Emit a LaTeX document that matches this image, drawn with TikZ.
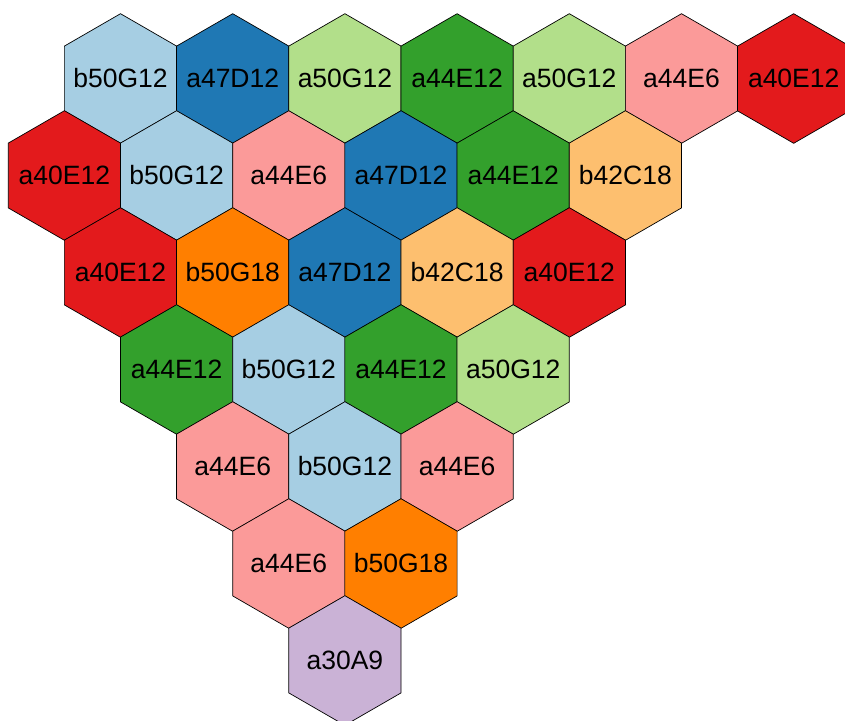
\documentclass[tikz,border=0pt]{standalone}
\usepackage{fontspec}
\setmainfont{Liberation Sans}

% one colour per label
\definecolor{b50G12}{HTML}{A6CEE3}
\definecolor{a47D12}{HTML}{1F78B4}
\definecolor{a50G12}{HTML}{B2DF8A}
\definecolor{a44E12}{HTML}{33A02C}
\definecolor{a44E6}{HTML}{FB9A99}
\definecolor{a40E12}{HTML}{E31A1C}
\definecolor{b42C18}{HTML}{FDBF6F}
\definecolor{b50G18}{HTML}{FF7F00}
\definecolor{a30A9}{HTML}{CAB2D6}

\begin{document}
\begin{tikzpicture}[x=1pt,y=-1pt,
  hexcell/.style={draw=black, line width=0.7pt},
  hexlabel/.style={inner sep=0pt, font=\fontsize{26.5}{31}\selectfont}]
  \clip (0,0) rectangle (845,720);
  \foreach \row/\shift/\labels in {
      0/0/{b50G12,a47D12,a50G12,a44E12,a50G12,a44E6,a40E12},
      1/-0.5/{a40E12,b50G12,a44E6,a47D12,a44E12,b42C18},
      2/0/{a40E12,b50G18,a47D12,b42C18,a40E12},
      3/0.5/{a44E12,b50G12,a44E12,a50G12},
      4/1/{a44E6,b50G12,a44E6},
      5/1.5/{a44E6,b50G18},
      6/2/{a30A9}}{
    \foreach \lbl [count=\c from 0] in \labels {
      \coordinate (c\row-\c) at ({120.5+112.2*(\c+\shift)},{78.5+97*\row});
      \draw[hexcell, fill=\lbl] (c\row-\c) +(90:64.8) -- +(150:64.8) -- +(210:64.8)
        -- +(270:64.8) -- +(330:64.8) -- +(30:64.8) -- cycle;
      \node[hexlabel] (h\row-\c) at (c\row-\c) {\lbl};
    }
  }
\end{tikzpicture}
\end{document}
